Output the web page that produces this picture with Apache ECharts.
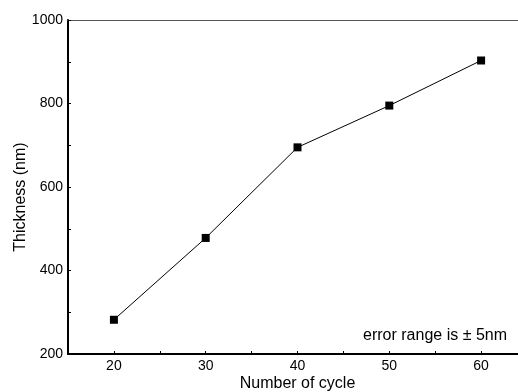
<!DOCTYPE html>
<html>
<head>
<meta charset="utf-8">
<script src="https://cdn.jsdelivr.net/npm/echarts@6/dist/echarts.min.js"></script>
<style>
  html, body { margin: 0; padding: 0; background: #fff; }
  #chart { width: 518px; height: 392px; }
</style>
</head>
<body>
<div id="chart"></div>
<script>
// thickness vs deposition cycles
const cycles = [20, 30, 40, 50, 60]
const thickness = [282, 478, 695, 795, 903]
const xMajorTicks = [20, 30, 40, 50, 60]
const yMajorTicks = [200, 400, 600, 800, 1000]

const font = 'Liberation Sans, Arial, sans-serif'
const chart = echarts.init(document.getElementById('chart'), null, { renderer: 'canvas' })

chart.setOption({
  animation: false,
  grid: { left: 68, right: -9, top: 20, bottom: 38, containLabel: false, outerBoundsMode: 'none' },
  xAxis: [{
    type: 'value',
    min: 15,
    max: 65,
    interval: 5,
    name: 'Number of cycle',
    nameLocation: 'middle',
    nameGap: 22,
    nameMoveOverlap: false,
    nameTextStyle: { fontFamily: font, fontSize: 16, color: '#000' },
    axisLine: { lineStyle: { color: '#000', width: 2 } },
    axisTick: { inside: true, length: 3, lineStyle: { color: '#000', width: 1 } },
    axisLabel: {
      margin: 5,
      fontFamily: font,
      fontSize: 14,
      color: '#000',
      formatter: (v) => (xMajorTicks.includes(v) ? String(v) : ''),
    },
    splitLine: { show: false },
  }, {
    type: 'value',
    position: 'top',
    min: 15,
    max: 65,
    axisLine: { lineStyle: { color: '#555', width: 1 } },
    axisTick: { show: false },
    axisLabel: { show: false },
    splitLine: { show: false },
  }],
  yAxis: {
    type: 'value',
    min: 200,
    max: 1000,
    interval: 100,
    name: 'Thickness (nm)',
    nameLocation: 'middle',
    nameGap: 39,
    nameMoveOverlap: false,
    nameTextStyle: { fontFamily: font, fontSize: 16, color: '#000', padding: [0, 20, 0, 0] },
    axisLine: { show: true, lineStyle: { color: '#000', width: 2 } },
    axisTick: { inside: true, length: 3, lineStyle: { color: '#000', width: 1 } },
    axisLabel: {
      margin: 5,
      fontFamily: font,
      fontSize: 14,
      color: '#000',
      formatter: (v) => (yMajorTicks.includes(v) ? String(v) : ''),
    },
    splitLine: { show: false },
  },
  graphic: [{
    type: 'text',
    right: 11,
    top: 328,
    style: { text: 'error range is ± 5nm', font: '16px ' + font, fill: '#000' },
  }],
  series: [{
    type: 'line',
    data: cycles.map((c, i) => [c, thickness[i]]),
    symbol: 'rect',
    symbolSize: 8,
    lineStyle: { color: '#000', width: 1 },
    itemStyle: { color: '#000' },
  }],
})
</script>
</body>
</html>
